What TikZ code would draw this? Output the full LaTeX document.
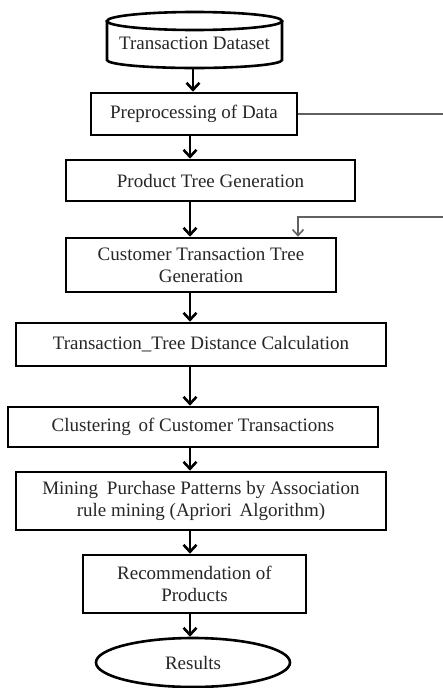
\documentclass[tikz,border=0pt]{standalone}
\usepackage{fontspec}
\setmainfont{Liberation Serif}
\usetikzlibrary{arrows.meta,shapes.geometric}

\tikzset{
  stepbox/.style={draw=black, line width=2.6pt, fill=white, rectangle, inner sep=0pt,
                  align=center, font=\fontsize{19}{22}\selectfont, text=black!85},
  endcap/.style={draw=black, line width=2.6pt, fill=white, ellipse, inner sep=0pt,
                 font=\fontsize{19}{22}\selectfont, text=black!85},
  arr/.style={draw=black, line width=2.4pt,
              -{Straight Barb[length=7pt,width=13pt,line width=2.6pt]}},
  gline/.style={draw=black!62, line width=1.6pt},
  garr/.style={gline, -{Straight Barb[length=6pt,width=11pt,line width=1.6pt]}}
}

\begin{document}
\begin{tikzpicture}[x=1pt,y=-1pt]
  % canvas
  \fill[white] (0,0) rectangle (443,688);
  \useasboundingbox (0,0) rectangle (443,688);

  % vertical spines of the main flow
  \coordinate (s1) at (193,0);
  \coordinate (s2) at (190,0);
  % right-hand side connectors
  \coordinate (rim) at (443,0);
  \coordinate (fbx) at (298,0);
  \coordinate (fbin) at (443,217);

  % data store (cylinder)
  \draw[line width=2.6pt, fill=white]
    (107,21) -- (107,60) arc[start angle=180,end angle=360,x radius=87.5pt,y radius=8pt]
    -- (282,21);
  \draw[line width=2.6pt, fill=white] (194.5,21) ellipse[x radius=87.5pt, y radius=9pt];
  \node[inner sep=0pt, minimum width=175pt, minimum height=56pt,
        font=\fontsize{19}{22}\selectfont, text=black!85, text depth=0pt]
        (ds) at (194.5,40) {\raisebox{-7pt}{Transaction Dataset}};

  % process steps
  \node[stepbox, minimum width=206pt, minimum height=42pt] (pre)  at (194,114)   {Preprocessing of Data};
  \node[stepbox, minimum width=289pt, minimum height=41pt] (prod) at (210.5,180.5) {Product Tree Generation};
  \node[stepbox, minimum width=270pt, minimum height=54pt] (cust) at (201,265)   {Customer Transaction Tree\\Generation};
  \node[stepbox, minimum width=370pt, minimum height=43pt] (dist) at (201,344.5) {Transaction\_Tree Distance Calculation};
  \node[stepbox, minimum width=370pt, minimum height=40pt] (clus) at (193,427)   {Clustering\hspace{3pt} of Customer Transactions};
  \node[stepbox, minimum width=370pt, minimum height=58pt] (mine) at (201,501)   {Mining\hspace{4pt} Purchase Patterns by Association\\rule mining (Apriori\hspace{3pt} Algorithm)};
  \node[stepbox, minimum width=223pt, minimum height=58pt] (reco) at (194.5,584) {Recommendation of\\Products};
  \node[endcap, minimum width=194pt, minimum height=49pt] (res) at (193,662.5) {Results};

  % main flow
  \draw[arr] (ds.south -| s1)   -- (pre.north -| s1);
  \draw[arr] (pre.south -| s2)  -- (prod.north -| s2);
  \draw[arr] (prod.south -| s2) -- (cust.north -| s2);
  \draw[arr] (cust.south -| s2) -- (dist.north -| s2);
  \draw[arr] (dist.south -| s2) -- (clus.north -| s2);
  \draw[arr] (clus.south -| s2) -- (mine.north -| s2);
  \draw[arr] (mine.south -| s2) -- (reco.north -| s2);
  \draw[arr] (reco.south -| s2) -- (res.north -| s2);

  % side connectors
  \draw[gline] (pre.east) -- (pre.east -| rim);
  \draw[garr] (fbin) -| (fbx |- cust.north);
\end{tikzpicture}
\end{document}
